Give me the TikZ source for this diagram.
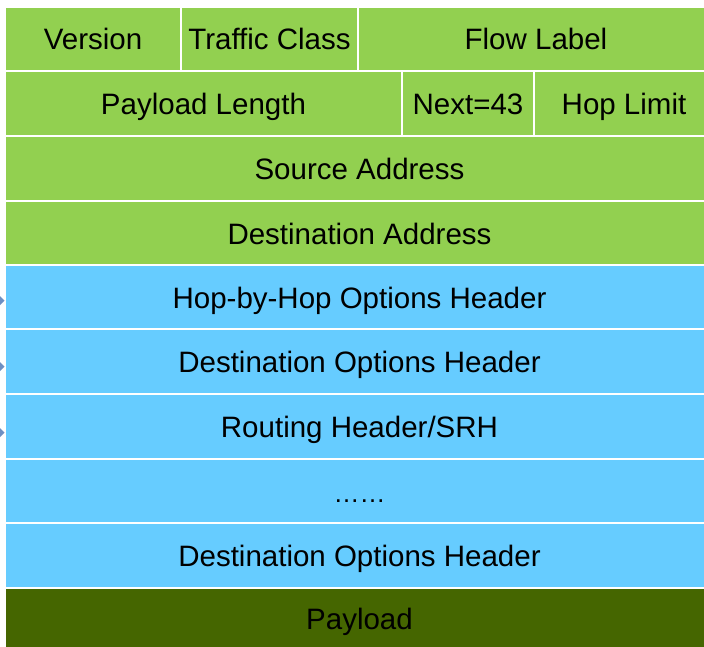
\documentclass[tikz,border=0pt]{standalone}
\usepackage{fontspec}
\setmainfont{Liberation Sans}
\definecolor{hdrgreen}{HTML}{92D050}
\definecolor{exthblue}{HTML}{66CCFF}
\definecolor{payolive}{HTML}{456600}
\definecolor{markblue}{HTML}{6E8FC2}
\begin{document}
\begin{tikzpicture}[x=1pt,y=-1pt,
  cell/.style={anchor=north west, inner sep=0pt, outer sep=0pt, draw=none,
    font=\fontsize{29.5}{31}\selectfont, text=black,
    text height=22.5pt, text depth=0.5pt},
  g/.style={cell, fill=hdrgreen},
  b/.style={cell, fill=exthblue},
  p/.style={cell, fill=payolive},
  sidemark/.style={fill=markblue}]
\useasboundingbox (0,0) rectangle (704,647);
% row 1
\node[g, minimum width=174pt, minimum height=62pt] (ver) at (6,8) {Version};
\node[g, minimum width=175pt, minimum height=62pt] (tc) at (182,8) {Traffic Class};
\node[g, minimum width=354pt, minimum height=62pt] (fl) at (359,8) {Flow Label};
% row 2
\node[g, minimum width=395pt, minimum height=63pt] (pl) at (6,72) {Payload Length};
\node[g, minimum width=130pt, minimum height=63pt] (nx) at (403,72) {Next=43};
\node[g, minimum width=178pt, minimum height=63pt] (hl) at (535,72) {Hop Limit};
% rows 3-4
\node[g, minimum width=707pt, minimum height=63pt] (src) at (6,137) {Source Address};
\node[g, minimum width=707pt, minimum height=62pt] (dst) at (6,202) {Destination Address};
% extension headers
\node[b, minimum width=707pt, minimum height=62pt] (hbh) at (6,266) {Hop-by-Hop Options Header};
\node[b, minimum width=707pt, minimum height=63pt] (do1) at (6,330) {Destination Options Header};
\node[b, minimum width=707pt, minimum height=63pt] (rh) at (6,395) {Routing Header/SRH};
\node[b, minimum width=707pt, minimum height=62pt, font=\fontsize{26}{28}\selectfont] (dots) at (6,460) {……};
\node[b, minimum width=707pt, minimum height=63pt] (do2) at (6,524) {Destination Options Header};
\node[p, minimum width=707pt, minimum height=58pt] (pay) at (6,589) {Payload};
% side markers
\fill[sidemark] (0,296) -- (4.5,300.5) -- (0,305) -- cycle;
\fill[sidemark] (0,362) -- (4.5,366.5) -- (0,371) -- cycle;
\fill[sidemark] (0,428) -- (4.5,432.5) -- (0,437) -- cycle;
\end{tikzpicture}
\end{document}
